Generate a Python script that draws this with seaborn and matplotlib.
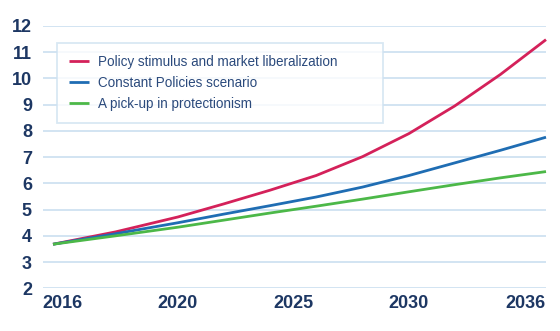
import numpy as np
import pandas as pd
import matplotlib
matplotlib.use("Agg")
import matplotlib.pyplot as plt
from matplotlib.transforms import ScaledTranslation
import seaborn as sns

# Scenario projections (index values)
years = [2016, 2018, 2020, 2022, 2024, 2026, 2028, 2030, 2032, 2034, 2036]
stimulus = [3.68, 4.15, 4.72, 5.22, 5.74, 6.30, 7.02, 7.90, 8.95, 10.15, 11.48]
constant = [3.68, 4.08, 4.50, 4.83, 5.15, 5.48, 5.86, 6.30, 6.78, 7.26, 7.76]
protection = [3.68, 4.00, 4.33, 4.60, 4.87, 5.13, 5.40, 5.68, 5.95, 6.21, 6.45]

series_names = [
    "Policy stimulus and market liberalization",
    "Constant Policies scenario",
    "A pick-up in protectionism",
]
tick_years = [2016, 2020, 2025, 2030, 2036]
y_ticks = list(range(2, 13))

colors = ["#d4215a", "#1f6db3", "#4cb848"]
navy = "#1d3763"
grid_blue = "#cfe2f1"

df = pd.DataFrame({
    "year": years * 3,
    "value": stimulus + constant + protection,
    "scenario": [series_names[0]] * len(years)
    + [series_names[1]] * len(years)
    + [series_names[2]] * len(years),
})

sns.set_theme(style="white")
plt.rcParams["font.family"] = ["Liberation Sans", "DejaVu Sans"]

fig = plt.figure(figsize=(5.6, 3.31), dpi=100)
ax = fig.add_axes([43 / 560, 1 - 288.3 / 331, 503 / 560, 262.3 / 331])

# Evenly spread year labels: piecewise-linear x scale
knot_years = np.array([2000.0, 2016, 2020, 2025, 2030, 2036, 2050])
knot_pos = np.array([53 - 16 * 31.25, 53, 178, 293, 409, 546, 546 + 14 * 22.8])


def fwd(x):
    return np.interp(x, knot_years, knot_pos)


def inv(p):
    return np.interp(p, knot_pos, knot_years)


ax.set_xscale("function", functions=(fwd, inv))

sns.lineplot(
    data=df, x="year", y="value", hue="scenario", hue_order=series_names,
    palette=colors, linewidth=2.0, ax=ax, legend=True,
)
for line in ax.lines:
    line.set_clip_on(False)
    line.set_solid_capstyle("butt")
    line.set_solid_joinstyle("round")

ax.set_xlim(inv(43), 2036)
ax.set_ylim(2, 12)
ax.set_yticks(y_ticks)
ax.set_xticks(tick_years)
ax.set_xticklabels([str(y) for y in tick_years])
ax.set_xlabel("")
ax.set_ylabel("")

ax.grid(axis="y", color=grid_blue, linewidth=1.3)
ax.grid(axis="x", visible=False)
ax.set_axisbelow(True)
for s in ax.spines.values():
    s.set_visible(False)

ax.tick_params(axis="both", length=0, labelsize=13, labelcolor=navy)
ax.tick_params(axis="y", pad=8)
ax.tick_params(axis="x", pad=5)
for lab in ax.get_xticklabels() + ax.get_yticklabels():
    lab.set_fontweight("bold")

xlabels = ax.get_xticklabels()
xlabels[0].set_horizontalalignment("left")
xlabels[0].set_transform(xlabels[0].get_transform()
                         + ScaledTranslation(-11 / 100, 0, fig.dpi_scale_trans))
xlabels[-1].set_horizontalalignment("right")

leg_top = (288.3 - 43) / 262.3
leg = ax.legend(
    loc="upper left",
    bbox_to_anchor=((57 - 43) / 503, leg_top - 0.05, (383 - 57) / 503, 0.05),
    mode="expand", borderaxespad=0, frameon=True, fancybox=False,
    fontsize=9.75, handlelength=1.45, handletextpad=0.7, borderpad=0.9,
    labelspacing=0.5, title=None,
)
leg.get_frame().set_edgecolor(grid_blue)
leg.get_frame().set_linewidth(1.3)
leg.get_frame().set_facecolor("white")
for t in leg.get_texts():
    t.set_color("#2b4a7c")
for h in leg.get_lines():
    h.set_linewidth(2.0)

fig.savefig("out.png", dpi=100, facecolor="white")
